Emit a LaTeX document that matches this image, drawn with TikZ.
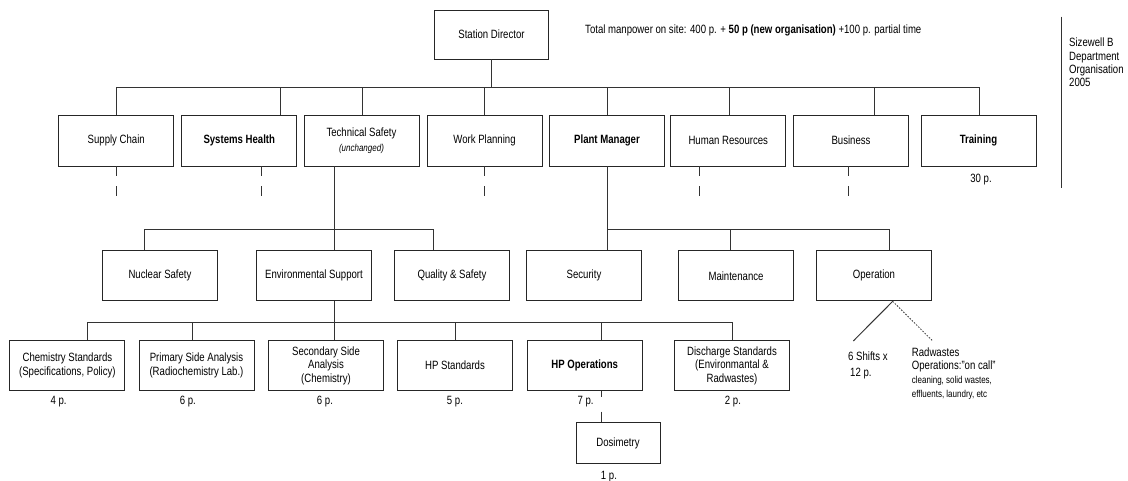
\documentclass[tikz,border=0pt]{standalone}
\usepackage{fontspec}
\setmainfont{Liberation Sans}[FakeStretch=0.8]
\begin{document}
\begin{tikzpicture}[x=1pt,y=-1pt,
  box/.style={draw=black!85, line width=0.9pt, minimum width=115pt, minimum height=51pt, inner sep=1pt, align=center, font=\fontsize{12}{13.5}\selectfont},
  conn/.style={draw=black!80, line width=0.8pt},
  stub/.style={draw=black!80, line width=0.8pt, dash pattern=on 9.5pt off 10.5pt},
  lbl/.style={font=\fontsize{12}{13.5}\selectfont, inner sep=0pt},
  small/.style={font=\fontsize{10}{11}\selectfont, inner sep=0pt}]
\useasboundingbox (0,0) rectangle (1128,481);
% top
\node[box, minimum width=114pt, minimum height=49pt] (director) at (491.5,34.5) {Station Director};
\node[lbl, anchor=west, font=\fontsize{12}{13}\selectfont] (total) at (585,30) {Total manpower on site: 400 p. + \textbf{50 p (new organisation)} +100 p. partial time};
\coordinate (sidetop) at (1061.7,16.7);
\coordinate (sidebot) at (1061.7,188);
\draw[conn] (sidetop) -- (sidebot);
\node[lbl, anchor=north west, align=left, font=\fontsize{12}{13.3}\selectfont] (sizewell) at (1069,38) {Sizewell B\\Department\\Organisation\\2005};
% level 1
\node[box] (supply) at (116.25,140.5) {Supply Chain};
\node[box] (systems) at (239.25,140.5) {\textbf{Systems Health}};
\node[box] (techsafety) at (361.5,140.5) {Technical Safety\\[1pt]{\fontsize{10}{11}\selectfont\itshape (unchanged)}};
\node[box] (workplan) at (484.5,140.5) {Work Planning};
\node[box] (plantmgr) at (607,140.5) {\textbf{Plant Manager}};
\node[box] (hr) at (728.25,140.5) {Human Resources};
\node[box] (business) at (851,140.5) {Business};
\node[box] (training) at (978.5,140.5) {\textbf{Training}};
\node[lbl] (p30) at (981,180) {30 p.};
\coordinate (bus1) at (0,87);
\draw[conn] (director.south) -- (director.south |- bus1);
\draw[conn] (supply.north |- bus1) -- ([xshift=1pt]training.north |- bus1);
\foreach \n/\dx in {supply/0, systems/40.75, techsafety/0.5, workplan/-0.5, plantmgr/0, hr/1.25, business/23, training/1}
  \draw[conn] ([xshift=\dx pt]\n.north) -- ([xshift=\dx pt]\n.north |- bus1);
\foreach \n/\dx in {supply/0.5, systems/22, workplan/-0.5, hr/-29, business/-2.5}
  \draw[stub] ([xshift=\dx pt]\n.south) -- ++(0,31);
% level 2
\node[box, minimum height=50pt] (nuclear) at (160,275.85) {Nuclear Safety};
\node[box, minimum height=50pt] (envsup) at (314,275.85) {Environmental Support};
\node[box, minimum height=50pt] (quality) at (452,275.85) {Quality \& Safety};
\node[box, minimum height=50pt] (security) at (584,275.85) {Security};
\node[box, minimum height=50pt] (maintenance) at (736,275.85) {Maintenance};
\node[box, minimum height=50pt] (operation) at (874,275.85) {\raisebox{3pt}{Operation}};
\coordinate (bus2) at (0,229);
\draw[conn] ([xshift=-27pt]techsafety.south) -- ([xshift=20.5pt]envsup.north);
\draw[conn] ([xshift=-16pt]nuclear.north |- bus2) -- ([xshift=-18.5pt]quality.north |- bus2);
\foreach \n/\dx in {nuclear/-16, quality/-18.5, maintenance/-6, operation/15.5}
  \draw[conn] ([xshift=\dx pt]\n.north) -- ([xshift=\dx pt]\n.north |- bus2);
\draw[conn] (plantmgr.south) -- ([xshift=23pt]security.north);
\draw[conn] (plantmgr.south |- bus2) -- ([xshift=15.5pt]operation.north |- bus2);
% operation children
\coordinate (shiftend) at (853.3,341);
\coordinate (radend) at (932.7,341);
\draw[conn, line width=1pt] ([xshift=18.7pt]operation.south) -- (shiftend);
\draw[conn, dash pattern=on 1.5pt off 1.5pt] ([xshift=18.7pt]operation.south) -- (radend);
\node[lbl, anchor=west] (shifts) at (848,356) {6 Shifts x};
\node[lbl, anchor=west] (shiftsp) at (850,374) {12 p.};
\node[lbl, anchor=west] (rad1) at (911.7,352.3) {Radwastes};
\node[lbl, anchor=west] (rad2) at (911.7,366.7) {Operations:”on call”};
\node[small, anchor=west] (rad3) at (911.7,380.7) {cleaning, solid wastes,};
\node[small, anchor=west] (rad4) at (911.7,395) {effluents, laundry, etc};
% level 3
\node[box, minimum height=49.5pt] (chem) at (67.4,365.4) {Chemistry Standards\\(Specifications, Policy)};
\node[box, minimum height=49.5pt] (primary) at (196.5,365.4) {Primary Side Analysis\\(Radiochemistry Lab.)};
\node[box, minimum height=49.5pt] (secondary) at (326,365.4) {Secondary Side\\Analysis\\(Chemistry)};
\node[box, minimum height=49.5pt] (hpstd) at (455,365.4) {HP Standards};
\node[box, minimum height=49.5pt] (hpops) at (584.7,365.4) {\textbf{HP Operations}};
\node[box, minimum height=49.5pt] (discharge) at (732,365.4) {Discharge Standards\\(Environmantal \&\\Radwastes)};
\coordinate (bus3) at (0,322);
\draw[conn] ([xshift=20pt]envsup.south) -- ([xshift=20pt]envsup.south |- bus3);
\draw[conn] ([xshift=20pt]chem.north |- bus3) -- (discharge.north |- bus3);
\foreach \n/\dx in {chem/20, primary/-4, secondary/8, hpstd/0.4, hpops/16.7, discharge/0}
  \draw[conn] ([xshift=\dx pt]\n.north) -- ([xshift=\dx pt]\n.north |- bus3);
\node[lbl] (p4) at (58.6,401.7) {4 p.};
\node[lbl] (p6a) at (187.8,401.7) {6 p.};
\node[lbl] (p6b) at (325,401.7) {6 p.};
\node[lbl] (p5) at (455,401.7) {5 p.};
\node[lbl] (p7) at (585.6,401.7) {7 p.};
\node[lbl] (p2) at (733,401.7) {2 p.};
% dosimetry
\node[box, minimum width=84pt, minimum height=41pt] (dosimetry) at (618,443) {Dosimetry};
\draw[conn, dash pattern=on 6.7pt off 14.3pt on 12pt off 10pt] ([xshift=16.7pt]hpops.south) -- ([xshift=-16.6pt]dosimetry.north);
\node[lbl] (p1) at (609,476.5) {1 p.};
\end{tikzpicture}
\end{document}
